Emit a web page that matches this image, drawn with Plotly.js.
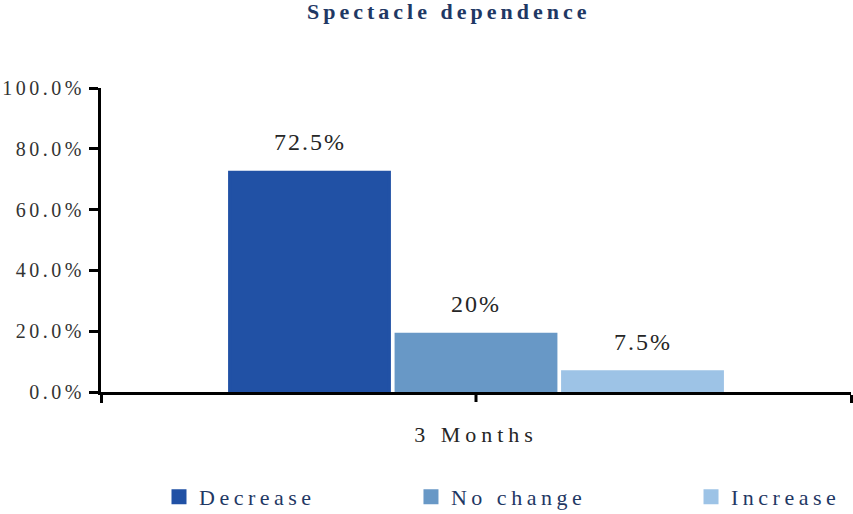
<!DOCTYPE html>
<html>
<head>
<meta charset="utf-8">
<script src="https://cdn.plot.ly/plotly-3.0.1.min.js"></script>
<style>
  html, body { margin: 0; padding: 0; background: #fff; }
  #chart { width: 853px; height: 514px; }
  .ytick text { letter-spacing: 3.5px; }
  .xtick text { letter-spacing: 5px; }
  .annotation-text { letter-spacing: 2px; }
  .gtitle { letter-spacing: 4px; }
  text.legendtext { letter-spacing: 4.5px !important; }
</style>
</head>
<body>
<div id="chart"></div>
<script>
// ---- data ----
const categories = ["3 Months"];
const seriesNames = ["Decrease", "No change", "Increase"];
const seriesValues = [[72.3], [19.0], [6.7]];
const seriesLabels = ["72.5%", "20%", "7.5%"];
const seriesColors = ["#2151A5", "#6898C6", "#9DC3E6"];
const yTickVals = [0, 20, 40, 60, 80, 100];
const yTickText = ["0.0%", "20.0%", "40.0%", "60.0%", "80.0%", "100.0%"];

const FONT = "Liberation Serif";
const bargap = 0.334;
const nSeries = seriesNames.length;
const legendIds = ["legend", "legend2", "legend3"];
const legendX = [0.1864, 0.4818, 0.8101];

const traces = seriesNames.map((name, i) => ({
  type: "bar",
  name: name,
  x: categories,
  y: seriesValues[i],
  legend: legendIds[i],
  marker: { color: seriesColors[i], line: { color: seriesColors[i], width: 3 } },
  hoverinfo: "none"
}));

const groupWidth = 1 - bargap;
const annotations = [];
seriesNames.forEach((name, i) => {
  categories.forEach((c, j) => {
    annotations.push({
      xref: "x", yref: "y",
      x: j + (i - (nSeries - 1) / 2) * groupWidth / nSeries,
      y: seriesValues[i][j],
      yshift: 30,
      yanchor: "middle",
      xanchor: "center",
      text: seriesLabels[i],
      showarrow: false,
      font: { family: FONT, size: 24, color: "#262626" }
    });
  });
});

const layout = {
  width: 853, height: 514,
  margin: { l: 101, r: 2, t: 88, b: 122 },
  paper_bgcolor: "#fff", plot_bgcolor: "#fff",
  showlegend: true,
  barmode: "group",
  bargap: bargap,
  bargroupgap: 0.04,
  title: {
    text: "<b>Spectacle dependence</b>",
    font: { family: FONT, size: 22, color: "#1F3864" },
    x: 0.526, xref: "container", xanchor: "center",
    y: 0.978, yref: "container", yanchor: "middle"
  },
  xaxis: {
    type: "category",
    showline: true, linecolor: "#000", linewidth: 3,
    ticks: "outside", tickson: "boundaries", ticklen: 8, tickwidth: 3, tickcolor: "#000",
    ticklabelstandoff: 21,
    tickfont: { family: FONT, size: 22, color: "#262626" },
    showgrid: false, zeroline: false, fixedrange: true
  },
  yaxis: {
    range: [0, 100],
    tickvals: yTickVals, ticktext: yTickText,
    showline: true, linecolor: "#000", linewidth: 3,
    ticks: "outside", ticklen: 9, tickwidth: 3, tickcolor: "#000",
    tickfont: { family: FONT, size: 20, color: "#333333" },
    showgrid: false, zeroline: false, fixedrange: true
  },
  shapes: [{
    type: "line", xref: "x domain", yref: "y domain",
    x0: 0.5, x1: 0.5, ysizemode: "pixel", yanchor: 0, y0: 0, y1: -10,
    line: { color: "#000", width: 3 }
  }],
  annotations: annotations
};

legendIds.forEach((id, i) => {
  layout[id] = {
    orientation: "h",
    x: legendX[i], xref: "container", xanchor: "left",
    y: 0.074, yref: "container", yanchor: "top",
    bgcolor: "rgba(0,0,0,0)",
    font: { family: FONT, size: 22, color: "#1F3864" }
  };
});

const gdEl = document.getElementById("chart");
function styleLegends() {
  gdEl.querySelectorAll(".infolayer text").forEach(t => {
    if (t.closest("[class*='legend']")) t.style.letterSpacing = "4.5px";
  });
  gdEl.querySelectorAll(".infolayer [clip-path]").forEach(el => {
    if (el.closest("[class*='legend']")) el.removeAttribute("clip-path");
  });
}

Plotly.newPlot(gdEl, traces, layout, { displayModeBar: false, staticPlot: true }).then(gd => {
  styleLegends();
  gd.on("plotly_afterplot", styleLegends);
  new MutationObserver(styleLegends).observe(gd, { childList: true, subtree: true });
  setTimeout(styleLegends, 0);
  setTimeout(styleLegends, 200);
});
</script>
</body>
</html>
